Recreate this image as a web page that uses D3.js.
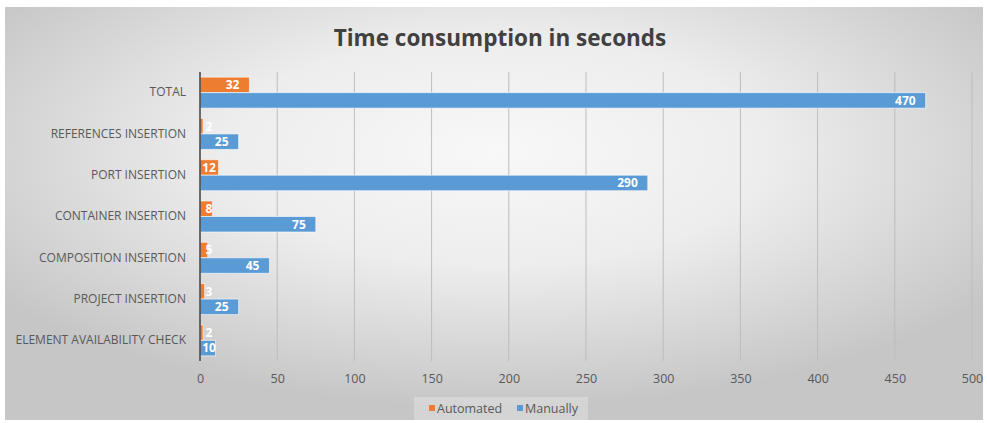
<!DOCTYPE html>
<html>
<head>
<meta charset="utf-8">
<script src="https://cdn.jsdelivr.net/npm/d3@7"></script>
<style>
  body { margin: 0; background: #fff; }
  text { font-family: "Open Sans", sans-serif; }
</style>
</head>
<body>
<div id="chart-area"></div>
<script>
/* Data */
const categories = ['TOTAL', 'REFERENCES INSERTION', 'PORT INSERTION', 'CONTAINER INSERTION',
                    'COMPOSITION INSERTION', 'PROJECT INSERTION', 'ELEMENT AVAILABILITY CHECK'];
const seriesNames = ['Automated', 'Manually'];
const automated = [32, 2, 12, 8, 5, 3, 2];
const manually  = [470, 25, 290, 75, 45, 25, 10];
const xTicks = [0, 50, 100, 150, 200, 250, 300, 350, 400, 450, 500];
const colors = ['#ED7D31', '#5B9BD5'];

const W = 987, H = 423;
const margin = { left: 200, right: 15, top: 72, bottom: 62 };

const svg = d3.select('#chart-area')
    .append('svg')
    .attr('width', W)
    .attr('height', H);

/* Background */
const defs = svg.append('defs');
const grad = defs.append('radialGradient')
    .attr('id', 'bg')
    .attr('cx', 0.5).attr('cy', 0.35).attr('r', 0.62);
grad.append('stop').attr('offset', '0%').attr('stop-color', '#f8f8f8');
grad.append('stop').attr('offset', '45%').attr('stop-color', '#ededed');
grad.append('stop').attr('offset', '100%').attr('stop-color', '#c6c6c6');

svg.append('rect')
    .attr('x', 5).attr('y', 7)
    .attr('width', 978).attr('height', 413)
    .attr('fill', 'url(#bg)');

/* Scales */
const x = d3.scaleLinear()
    .domain([0, 500])
    .range([margin.left, W - margin.right]);

const y = d3.scaleBand()
    .domain(categories)
    .range([margin.top, H - margin.bottom]);

const ySub = d3.scaleBand()
    .domain(seriesNames)
    .range([0, 31]);

const groupOffset = (y.bandwidth() - 31) / 2;

/* Grid */
svg.append('g')
    .selectAll('line')
    .data(xTicks.slice(1))
    .enter().append('line')
    .attr('x1', d => x(d)).attr('x2', d => x(d))
    .attr('y1', margin.top).attr('y2', H - margin.bottom)
    .attr('stroke', '#bdbdbd')
    .attr('stroke-width', 1);

/* X axis labels */
const xAxis = svg.append('g')
    .attr('transform', `translate(0,${H - margin.bottom + 13})`)
    .call(d3.axisBottom(x).tickValues(xTicks).tickSize(0).tickPadding(0));
xAxis.select('.domain').remove();
xAxis.selectAll('text')
    .attr('fill', '#595959')
    .attr('font-size', '12.5px')
    .attr('font-family', '"Open Sans", sans-serif');

/* Y axis labels */
const yAxis = svg.append('g')
    .attr('transform', `translate(${margin.left - 14},0)`)
    .call(d3.axisLeft(y).tickSize(0).tickPadding(0));
yAxis.select('.domain').remove();
yAxis.selectAll('text')
    .attr('fill', '#595959')
    .attr('font-size', '12px')
    .attr('font-family', '"Open Sans", sans-serif');

/* Bars */
const rows = categories.map((c, i) => ({
    cat: c,
    vals: [
        { s: seriesNames[0], v: automated[i] },
        { s: seriesNames[1], v: manually[i] }
    ]
}));

const groups = svg.append('g')
    .selectAll('g')
    .data(rows)
    .enter().append('g')
    .attr('transform', d => `translate(0,${y(d.cat) + groupOffset})`);

groups.selectAll('rect')
    .data(d => d.vals)
    .enter().append('rect')
    .attr('x', x(0))
    .attr('y', d => ySub(d.s))
    .attr('width', d => x(d.v) - x(0))
    .attr('height', ySub.bandwidth())
    .attr('fill', (d, i) => colors[i])
    .attr('stroke', 'rgba(255,255,255,0.6)')
    .attr('stroke-width', 1);

/* Value labels */
groups.selectAll('text')
    .data(d => d.vals)
    .enter().append('text')
    .attr('y', d => ySub(d.s) + ySub.bandwidth() / 2)
    .attr('dy', '0.36em')
    .attr('text-anchor', 'middle')
    .attr('fill', '#fff')
    .attr('font-size', '12px')
    .attr('font-weight', 'bold')
    .text(d => d.v)
    .attr('x', function(d) {
        const w = this.getComputedTextLength();
        return Math.max(x(d.v) - 10 - w / 2, x(0) + 9);
    });

/* Axis line */
svg.append('line')
    .attr('x1', x(0)).attr('x2', x(0))
    .attr('y1', margin.top).attr('y2', H - margin.bottom)
    .attr('stroke', '#404040')
    .attr('stroke-width', 1.5);

/* Title */
svg.append('text')
    .attr('x', 500).attr('y', 46)
    .attr('text-anchor', 'middle')
    .attr('fill', '#404040')
    .attr('font-size', '22.5px')
    .attr('font-weight', 'bold')
    .text('Time consumption in seconds');

/* Legend */
const legend = svg.append('g');
legend.append('rect')
    .attr('x', 414).attr('y', 397)
    .attr('width', 174).attr('height', 23)
    .attr('fill', 'rgba(255,255,255,0.25)');

const legendItems = [
    { name: seriesNames[0], color: colors[0], x: 429 },
    { name: seriesNames[1], color: colors[1], x: 517 }
];
const li = legend.selectAll('.item')
    .data(legendItems)
    .enter().append('g')
    .attr('class', 'item')
    .attr('transform', d => `translate(${d.x},408)`);
li.append('rect')
    .attr('x', 0).attr('y', -3)
    .attr('width', 6).attr('height', 6)
    .attr('fill', d => d.color);
li.append('text')
    .attr('x', 8).attr('dy', '0.36em')
    .attr('fill', '#595959')
    .attr('font-size', '12.5px')
    .text(d => d.name);
</script>
</body>
</html>
